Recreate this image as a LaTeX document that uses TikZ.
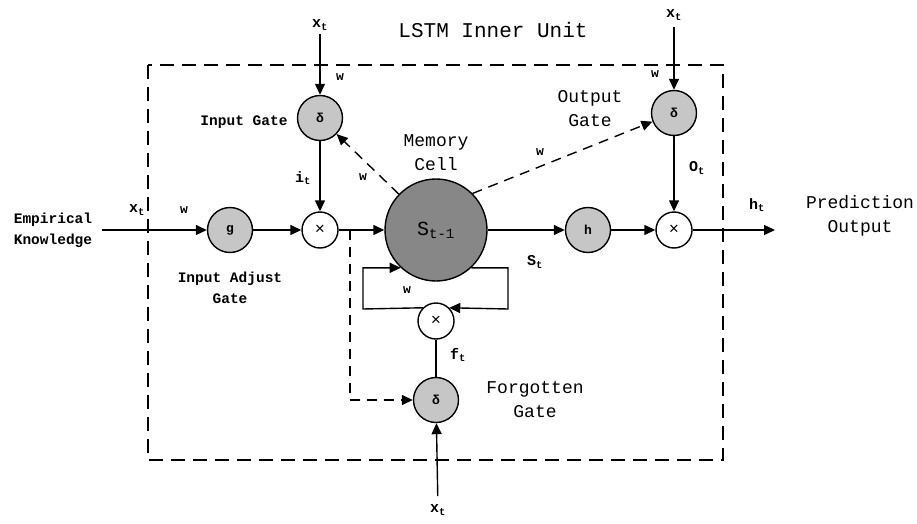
\documentclass[tikz,border=0pt]{standalone}
\usepackage{fontspec}
\setmainfont{Liberation Mono}
\usetikzlibrary{arrows.meta, positioning}
\definecolor{lsGate}{HTML}{C6C6C6}
\definecolor{lsCell}{HTML}{878787}
\tikzset{
  % heavy lines and solid triangle tips, as in the printed figure
  every picture/.append style = {line width=1.4pt, >={Triangle[length=11pt, width=10pt]}},
  gatenode/.style  = {circle, draw, fill=lsGate, minimum size=45pt, inner sep=0pt,
                      font=\bfseries\fontsize{13}{13}\selectfont},
  multnode/.style  = {circle, draw, fill=white, minimum size=36pt, inner sep=0pt,
                      font=\fontsize{17}{17}\selectfont},
  cellnode/.style  = {circle, draw, fill=lsCell, minimum size=102pt, inner sep=0pt,
                      font=\fontsize{20}{20}\selectfont},
  flow/.style      = {->},
  wlink/.style     = {->, dash pattern=on 10pt off 7pt},
  unitbox/.style   = {dash pattern=on 14pt off 8pt},
  vlbl/.style      = {font=\bfseries\fontsize{15}{15}\selectfont},
  wlbl/.style      = {font=\bfseries\fontsize{13}{13}\selectfont},
  glbl/.style      = {font=\bfseries\fontsize{14.5}{21}\selectfont, align=center},
  tlbl/.style      = {font=\fontsize{18}{24}\selectfont, align=center},
}

\begin{document}
\begin{tikzpicture}[x=1pt, y=-1pt]
  \useasboundingbox (0,0) rectangle (917,524);
  % unit frame and title
  \draw[unitbox] (148,65) rectangle (723,460);
  \node[font=\fontsize{21}{21}\selectfont] (title) at (493,30) {LSTM Inner Unit};
  % cell, gates and products
  \node[cellnode] (cell) at (436,230) {S\textsubscript{t-1}};
  \node[gatenode] (adj) at (230,230) {g};
  \node[multnode] (imul) at (320,230) {×};
  \node[gatenode] (igate) at (320,118) {δ};
  \node[gatenode] (hact) at (588,230) {h};
  \node[multnode] (omul) at (674,230) {×};
  \node[gatenode] (ogate) at (674,113) {δ};
  \node[multnode] (fmul) at (436,321) {×};
  \node[gatenode] (fgate) at (436,400) {δ};
  % inputs and output
  \node[glbl, inner xsep=9pt] (know) at (53,230) {Empirical\\Knowledge};
  \node[vlbl] (xi) at (320,25) {x\textsubscript{t}};
  \node[vlbl, inner ysep=6pt] (xo) at (674,15) {x\textsubscript{t}};
  \node[vlbl, inner ysep=8pt] (xf) at (438,510) {x\textsubscript{t}};
  \node[tlbl] (pred) at (860,216) {Prediction\\Output};
  \coordinate (out) at (775,230);
  \coordinate (split) at (350,230);
  \coordinate (loopL) at (363,309);
  \coordinate (loopR) at (508,309);

  % forward path
  \draw[flow] (know) -- (adj);
  \draw[flow] (adj) -- (imul);
  \draw[flow] (imul) -- (cell);
  \draw[flow] (cell) -- (hact);
  \draw[flow] (hact) -- (omul);
  \draw[flow] (omul) -- (out);
  % gate inputs
  \draw[flow] (xi) -- (igate);
  \draw[flow] (igate) -- (imul);
  \draw[flow] (xo) -- (ogate);
  \draw[flow] (ogate) -- (omul);
  \draw[flow] (xf) -- (fgate);
  \draw (fgate) -- (fmul);
  % recurrent loop
  \draw[flow] (cell.313) -| (loopR) -- (fmul.45);
  \draw[flow] (fmul.135) -- (loopL) |- (cell.227);
  % weighted links from the cell
  \draw[wlink] (cell) -- (igate);
  \draw[wlink] (cell.45) -- (ogate);
  \draw[wlink] (split) |- (fgate);

  % labels
  \node[glbl] (igl) at (244,122) {Input Gate};
  \node[glbl] (agl) at (230,288) {Input Adjust\\Gate};
  \node[tlbl] (cgl) at (436,153) {Memory\\Cell};
  \node[tlbl] (ogl) at (590,109) {Output\\Gate};
  \node[tlbl] (fgl) at (535,400) {Forgotten\\Gate};
  \node[vlbl] (xk) at (137,210) {x\textsubscript{t}};
  \node[wlbl] (wk) at (184,210) {w};
  \node[wlbl] (wi) at (340,77) {w};
  \node[wlbl] (wci) at (363,177) {w};
  \node[wlbl] (wco) at (540,152) {w};
  \node[wlbl] (wo) at (655,74) {w};
  \node[wlbl] (wl) at (407,290) {w};
  \node[vlbl] (it) at (303,178) {i\textsubscript{t}};
  \node[vlbl] (ot) at (697,168) {O\textsubscript{t}};
  \node[vlbl] (ft) at (458,355) {f\textsubscript{t}};
  \node[vlbl] (st) at (535,262) {S\textsubscript{t}};
  \node[vlbl] (ht) at (757,205) {h\textsubscript{t}};
\end{tikzpicture}
\end{document}
